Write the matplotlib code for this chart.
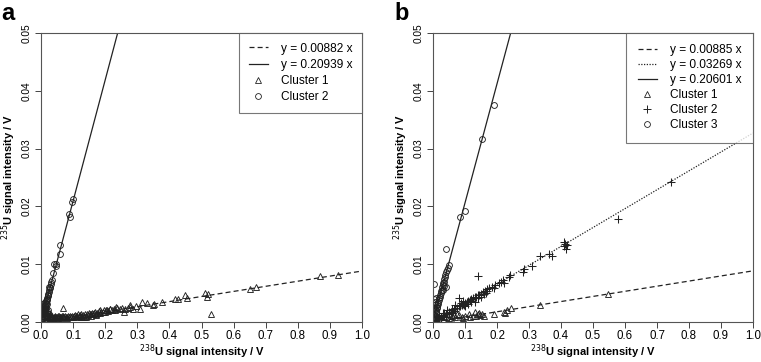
import numpy as np
import matplotlib.pyplot as plt
from matplotlib.lines import Line2D

plt.rcParams['font.family'] = ['Liberation Sans', 'DejaVu Sans']

# ---- panel a ----
slope_a = [0.00882, 0.20939]

a_c1 = [(0.012, 0.0018), (0.015, 0.0021), (0.018, 0.0012), (0.020, 0.0009), (0.022, 0.0008),
        (0.025, 0.0010), (0.028, 0.0007), (0.030, 0.0009), (0.033, 0.0008), (0.035, 0.0010),
        (0.038, 0.0007), (0.040, 0.0009), (0.043, 0.0008), (0.045, 0.0010), (0.048, 0.0008),
        (0.050, 0.0009), (0.053, 0.0007), (0.055, 0.0010), (0.058, 0.0008), (0.060, 0.0009),
        (0.063, 0.0008), (0.066, 0.0010), (0.069, 0.0008), (0.072, 0.0009), (0.075, 0.0010),
        (0.078, 0.0008), (0.081, 0.0009), (0.084, 0.0010), (0.087, 0.0008), (0.090, 0.0010),
        (0.093, 0.0009), (0.096, 0.0011), (0.099, 0.0009), (0.102, 0.0010), (0.105, 0.0012),
        (0.108, 0.0010), (0.111, 0.0011), (0.114, 0.0013), (0.117, 0.0010), (0.120, 0.0012),
        (0.123, 0.0011), (0.126, 0.0013), (0.129, 0.0009), (0.132, 0.0012), (0.135, 0.0008),
        (0.138, 0.0013), (0.141, 0.0011), (0.144, 0.0014), (0.147, 0.0012), (0.150, 0.0015),
        (0.153, 0.0013), (0.156, 0.0014), (0.159, 0.0016), (0.162, 0.0013), (0.165, 0.0015),
        (0.168, 0.0017), (0.172, 0.0014), (0.176, 0.0016), (0.180, 0.0019), (0.184, 0.0016),
        (0.188, 0.0018), (0.192, 0.0017), (0.196, 0.0020), (0.200, 0.0018), (0.205, 0.0021),
        (0.210, 0.0019), (0.215, 0.0022), (0.220, 0.0020), (0.226, 0.0023), (0.232, 0.0021),
        (0.238, 0.0024), (0.245, 0.0022), (0.252, 0.0024), (0.262, 0.0023), (0.270, 0.0025),
        (0.278, 0.0026), (0.068, 0.0025), (0.023, 0.0021), (0.184, 0.0020), (0.203, 0.0021),
        (0.215, 0.0023), (0.234, 0.0026), (0.259, 0.0017), (0.278, 0.0030), (0.288, 0.0023),
        (0.296, 0.0027), (0.309, 0.0023), (0.314, 0.0034), (0.330, 0.0033), (0.348, 0.0029),
        (0.352, 0.0032), (0.376, 0.0035), (0.416, 0.0040), (0.426, 0.0039), (0.449, 0.0046),
        (0.454, 0.0041), (0.511, 0.0050), (0.517, 0.0043), (0.519, 0.0049), (0.530, 0.0014),
        (0.652, 0.0057), (0.669, 0.0061), (0.870, 0.0079), (0.925, 0.0082),
        (0.020, 0.0012), (0.026, 0.0007), (0.032, 0.0011), (0.042, 0.0007), (0.052, 0.0011),
        (0.062, 0.0007), (0.070, 0.0011), (0.080, 0.0007), (0.092, 0.0008), (0.110, 0.0009),
        (0.125, 0.0009), (0.140, 0.0009), (0.155, 0.0011), (0.170, 0.0012)]

a_c2 = [(0.101, 0.0212), (0.098, 0.0208), (0.091, 0.0182), (0.087, 0.0186), (0.060, 0.0134),
        (0.058, 0.0117), (0.048, 0.0101), (0.046, 0.0097), (0.040, 0.0101), (0.038, 0.0085),
        (0.034, 0.0072), (0.032, 0.0069), (0.030, 0.0065), (0.029, 0.0061), (0.027, 0.0058),
        (0.026, 0.0060), (0.025, 0.0055), (0.024, 0.0052), (0.023, 0.0049), (0.022, 0.0047),
        (0.021, 0.0045), (0.020, 0.0042), (0.019, 0.0040), (0.018, 0.0038), (0.017, 0.0036),
        (0.016, 0.0033), (0.015, 0.0031), (0.014, 0.0029), (0.013, 0.0027), (0.012, 0.0025),
        (0.011, 0.0023), (0.010, 0.0021), (0.009, 0.0019), (0.008, 0.0017), (0.007, 0.0015),
        (0.006, 0.0013), (0.005, 0.0011), (0.004, 0.0009), (0.003, 0.0007), (0.002, 0.0005),
        (0.003, 0.0031), (0.004, 0.0025), (0.005, 0.0019), (0.006, 0.0027), (0.002, 0.0015),
        (0.008, 0.0009), (0.010, 0.0013), (0.012, 0.0008), (0.015, 0.0012), (0.018, 0.0016),
        (0.020, 0.0010), (0.025, 0.0013), (0.022, 0.0020), (0.028, 0.0009), (0.003, 0.0011),
        (0.001, 0.0003), (0.007, 0.0022), (0.009, 0.0028), (0.011, 0.0018), (0.013, 0.0034),
        (0.016, 0.0026), (0.019, 0.0031), (0.004, 0.0016), (0.014, 0.0020)]

# ---- panel b ----
slope_b = [0.00885, 0.03269, 0.20601]

b_c1 = [(0.546, 0.0048), (0.333, 0.0030), (0.244, 0.0024), (0.231, 0.0020), (0.226, 0.0016),
        (0.222, 0.0018), (0.192, 0.0013), (0.153, 0.0014), (0.148, 0.0012), (0.158, 0.0011),
        (0.140, 0.0013), (0.130, 0.0018), (0.125, 0.0011), (0.111, 0.0014), (0.100, 0.0011),
        (0.090, 0.0009), (0.080, 0.0012), (0.070, 0.0008), (0.060, 0.0010), (0.050, 0.0007),
        (0.040, 0.0008), (0.030, 0.0005), (0.020, 0.0004), (0.095, 0.0007), (0.115, 0.0009),
        (0.135, 0.0010), (0.145, 0.0015), (0.075, 0.0013), (0.055, 0.0005), (0.065, 0.0012)]

b_c2 = [(0.745, 0.0243), (0.577, 0.0178), (0.413, 0.0135), (0.408, 0.0131), (0.418, 0.0133),
        (0.410, 0.0138), (0.415, 0.0126), (0.371, 0.0114), (0.361, 0.0117), (0.333, 0.0114),
        (0.309, 0.0097), (0.285, 0.0092), (0.281, 0.0087), (0.241, 0.0081), (0.236, 0.0078),
        (0.140, 0.0080), (0.218, 0.0072), (0.222, 0.0068), (0.212, 0.0070), (0.205, 0.0068),
        (0.195, 0.0064), (0.184, 0.0061), (0.175, 0.0058), (0.168, 0.0057), (0.162, 0.0054),
        (0.165, 0.0050), (0.155, 0.0052), (0.150, 0.0049), (0.145, 0.0047), (0.140, 0.0046),
        (0.135, 0.0044), (0.130, 0.0043), (0.125, 0.0041), (0.120, 0.0040), (0.115, 0.0038),
        (0.110, 0.0036), (0.105, 0.0035), (0.100, 0.0033), (0.095, 0.0032), (0.090, 0.0030),
        (0.085, 0.0028), (0.080, 0.0042), (0.080, 0.0027), (0.075, 0.0025), (0.070, 0.0024),
        (0.065, 0.0022), (0.060, 0.0020), (0.055, 0.0018), (0.050, 0.0017), (0.045, 0.0015),
        (0.040, 0.0013), (0.035, 0.0012), (0.030, 0.0010), (0.025, 0.0009), (0.020, 0.0007),
        (0.015, 0.0005), (0.010, 0.0004), (0.005, 0.0002), (0.130, 0.0035), (0.110, 0.0031),
        (0.095, 0.0036), (0.070, 0.0029), (0.060, 0.0016), (0.045, 0.0020), (0.030, 0.0015),
        (0.020, 0.0012), (0.050, 0.0013), (0.100, 0.0028), (0.150, 0.0043), (0.120, 0.0034),
        (0.012, 0.0010), (0.008, 0.0008), (0.025, 0.0005), (0.040, 0.0009), (0.160, 0.0048),
        (0.170, 0.0053), (0.190, 0.0058), (0.058, 0.0023), (0.088, 0.0033), (0.118, 0.0037),
        (0.142, 0.0042), (0.035, 0.0016), (0.018, 0.0010), (0.068, 0.0019), (0.098, 0.0030)]

b_c3 = [(0.190, 0.0376), (0.152, 0.0316), (0.101, 0.0192), (0.085, 0.0182), (0.040, 0.0127),
        (0.004, 0.0065), (0.051, 0.0098), (0.047, 0.0094), (0.044, 0.0090), (0.041, 0.0086),
        (0.038, 0.0082), (0.036, 0.0078), (0.034, 0.0074), (0.033, 0.0070), (0.031, 0.0067),
        (0.030, 0.0064), (0.028, 0.0060), (0.041, 0.0060), (0.027, 0.0056), (0.026, 0.0053),
        (0.024, 0.0050), (0.023, 0.0047), (0.021, 0.0044), (0.020, 0.0041), (0.019, 0.0038),
        (0.017, 0.0035), (0.016, 0.0032), (0.014, 0.0029), (0.013, 0.0026), (0.012, 0.0024),
        (0.010, 0.0021), (0.009, 0.0018), (0.008, 0.0015), (0.006, 0.0012), (0.005, 0.0010),
        (0.004, 0.0008), (0.003, 0.0006), (0.002, 0.0004), (0.003, 0.0040), (0.005, 0.0035),
        (0.007, 0.0030), (0.002, 0.0025), (0.008, 0.0042), (0.006, 0.0022), (0.035, 0.0062),
        (0.030, 0.0055)]

xticks = np.arange(0, 1.01, 0.1)
yticks = [0.0, 0.01, 0.02, 0.03, 0.04, 0.05]
line_styles = {'dash': (0, (4, 2.5)), 'dot': (0, (1, 1.2)), 'solid': '-'}
ink = '#222222'
frame = '#555555'

W, H = 761, 362
fig = plt.figure(figsize=(W / 100, H / 100), dpi=100)
# axes boxes in pixels: left, right, top, bottom
boxes = [(41, 362, 33, 322), (433, 753, 33, 322)]
axes = []
for l, r, t, b in boxes:
    axes.append(fig.add_axes([l / W, 1 - b / H, (r - l) / W, (b - t) / H]))
ax1, ax2 = axes


def style(ax, box):
    l, r, t, b = box
    ax.set_xlim(0, 1)
    ax.set_ylim(0, 0.05)
    ax.set_xticks(xticks)
    ax.set_xticklabels(['%.1f' % t for t in xticks], fontsize=8.3)
    ax.set_yticks(yticks)
    ax.set_yticklabels(['%.2f' % t for t in yticks], fontsize=7.3, rotation=90, va='center')
    ax.tick_params(direction='out', length=4, width=0.7, color='#444444')
    ax.tick_params(axis='y', pad=3)
    ax.tick_params(axis='x', pad=1.5)
    for s in ax.spines.values():
        s.set_color(frame)
        s.set_linewidth(0.8)
    # axis titles placed in pixel terms
    fig.text((l + r) / 2 / W, 0.002, '$^{238}$U signal intensity / V', fontsize=8,
             fontweight='bold', ha='center', va='bottom')
    fig.text((l - 32) / W, 1 - (t + b) / 2 / H, '$^{235}$U signal intensity / V', fontsize=8,
             fontweight='bold', ha='center', va='center', rotation=90)


def scatter(ax, pts, marker, ms):
    xs = [p[0] for p in pts]
    ys = [p[1] for p in pts]
    if marker == '+':
        ax.plot(xs, ys, linestyle='none', marker='+', ms=ms, mew=0.75, color=ink)
    else:
        ax.plot(xs, ys, linestyle='none', marker=marker, ms=ms, mew=0.65,
                mfc='none', mec=ink)


xl = np.array([0, 1.0])
leg_kw = dict(loc='upper right', fontsize=8.6, borderaxespad=0, fancybox=False,
              edgecolor=frame, handlelength=1.6, handletextpad=1.1)

# panel a
style(ax1, boxes[0])
ax1.plot(xl, slope_a[0] * xl, color=ink, lw=0.9, ls=line_styles['dash'])
ax1.plot(xl, slope_a[1] * xl, color=ink, lw=0.9, ls='-')
scatter(ax1, a_c1, '^', 5)
scatter(ax1, a_c2, 'o', 4.2)
h_a = [Line2D([], [], color=ink, lw=0.9, ls=line_styles['dash']),
       Line2D([], [], color=ink, lw=0.9, ls='-'),
       Line2D([], [], ls='none', marker='^', ms=5, mfc='none', mec=ink, mew=0.6),
       Line2D([], [], ls='none', marker='o', ms=4.2, mfc='none', mec=ink, mew=0.6)]
lab_a = ['y = %.5f x' % s for s in slope_a] + ['Cluster 1', 'Cluster 2']
leg = ax1.legend(h_a, lab_a, labelspacing=0.36, borderpad=0.8, **leg_kw)
leg.get_frame().set_linewidth(0.8)

# panel b
style(ax2, boxes[1])
ax2.plot(xl, slope_b[0] * xl, color=ink, lw=0.9, ls=line_styles['dash'])
ax2.plot(xl, slope_b[1] * xl, color=ink, lw=0.9, ls=line_styles['dot'])
ax2.plot(xl, slope_b[2] * xl, color=ink, lw=0.9, ls='-')
scatter(ax2, b_c1, '^', 5)
scatter(ax2, b_c2, '+', 6)
scatter(ax2, b_c3, 'o', 4.2)
h_b = [Line2D([], [], color=ink, lw=0.9, ls=line_styles['dash']),
       Line2D([], [], color=ink, lw=0.9, ls=line_styles['dot']),
       Line2D([], [], color=ink, lw=0.9, ls='-'),
       Line2D([], [], ls='none', marker='^', ms=5, mfc='none', mec=ink, mew=0.6),
       Line2D([], [], ls='none', marker='+', ms=6, color=ink, mew=0.7),
       Line2D([], [], ls='none', marker='o', ms=4.2, mfc='none', mec=ink, mew=0.6)]
lab_b = ['y = %.5f x' % s for s in slope_b] + ['Cluster 1', 'Cluster 2', 'Cluster 3']
leg = ax2.legend(h_b, lab_b, labelspacing=0.25, borderpad=0.95, **leg_kw)
leg.get_frame().set_linewidth(0.8)

fig.text(0.002, 0.995, 'a', fontsize=17, fontweight='bold', va='top', ha='left')
fig.text(0.519, 0.995, 'b', fontsize=17, fontweight='bold', va='top', ha='left')

fig.savefig('out.png', dpi=100)
